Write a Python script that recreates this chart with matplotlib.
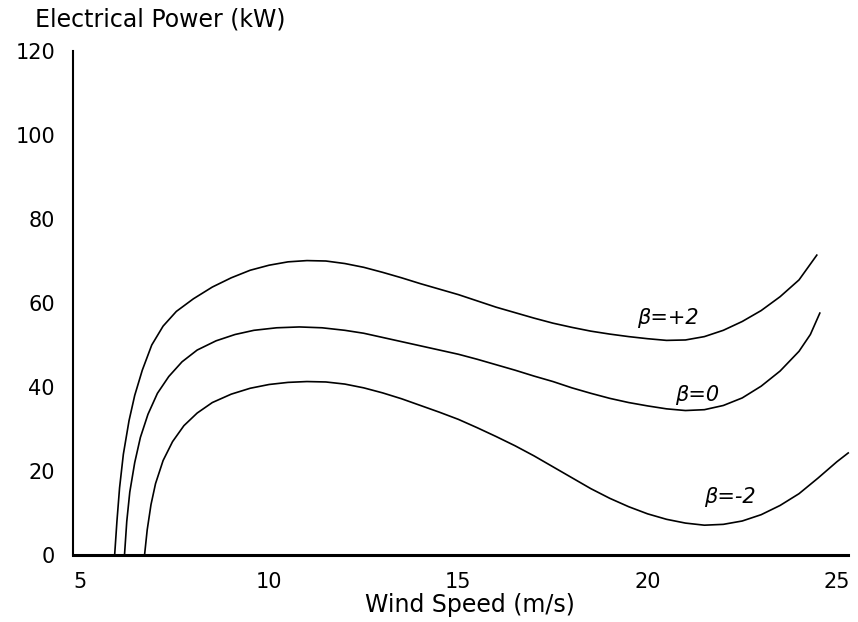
import matplotlib
matplotlib.use('Agg')
import matplotlib.pyplot as plt

# Power curves for three blade pitch settings, wind speed (m/s) vs power (kW)
speed_p2 = [5.92, 5.98, 6.05, 6.15, 6.3, 6.45, 6.65, 6.9, 7.2, 7.55, 8.0, 8.5,
            9.0, 9.5, 10.0, 10.5, 11.0, 11.5, 12.0, 12.5, 13.0, 13.5, 14.0, 14.5,
            15.0, 15.5, 16.0, 16.5, 17.0, 17.5, 18.0, 18.5, 19.0, 19.5, 20.0, 20.5,
            21.0, 21.5, 22.0, 22.5, 23.0, 23.5, 24.0, 24.47]
power_p2 = [0, 8, 16, 24, 32, 38, 44, 50, 54.5, 58, 61, 63.8,
            66, 67.8, 69, 69.8, 70.1, 70, 69.4, 68.5, 67.3, 66, 64.6, 63.3,
            62, 60.5, 59, 57.7, 56.4, 55.2, 54.2, 53.3, 52.6, 52, 51.5, 51.1,
            51.2, 52, 53.5, 55.6, 58.2, 61.5, 65.5, 71.4]

speed_0 = [6.18, 6.24, 6.32, 6.45, 6.6, 6.8, 7.05, 7.35, 7.7, 8.1, 8.6, 9.1,
           9.6, 10.2, 10.8, 11.4, 12.0, 12.5, 13.0, 13.5, 14.0, 14.5, 15.0, 15.5,
           16.0, 16.5, 17.0, 17.5, 18.0, 18.5, 19.0, 19.5, 20.0, 20.5, 21.0, 21.5,
           22.0, 22.5, 23.0, 23.5, 24.0, 24.3, 24.55]
power_0 = [0, 8, 15, 22, 28, 33.5, 38.5, 42.5, 46, 48.8, 51, 52.5,
           53.5, 54.1, 54.3, 54.1, 53.5, 52.8, 51.8, 50.8, 49.8, 48.8, 47.8, 46.6,
           45.3, 44, 42.6, 41.3, 39.8, 38.5, 37.3, 36.3, 35.5, 34.8, 34.4, 34.6,
           35.6, 37.4, 40.2, 43.8, 48.5, 52.5, 57.6]

speed_m2 = [6.71, 6.78, 6.88, 7.0, 7.2, 7.45, 7.75, 8.1, 8.5, 9.0, 9.5, 10.0,
            10.5, 11.0, 11.5, 12.0, 12.5, 13.0, 13.5, 14.0, 14.5, 15.0, 15.5, 16.0,
            16.5, 17.0, 17.5, 18.0, 18.5, 19.0, 19.5, 20.0, 20.5, 21.0, 21.5, 22.0,
            22.5, 23.0, 23.5, 24.0, 24.5, 25.0, 25.3]
power_m2 = [0, 6, 12, 17, 22.5, 27, 30.8, 33.8, 36.3, 38.3, 39.7, 40.6,
            41.1, 41.3, 41.2, 40.7, 39.8, 38.6, 37.2, 35.6, 34, 32.3, 30.3, 28.2,
            26, 23.6, 21, 18.4, 15.8, 13.5, 11.5, 9.8, 8.5, 7.6, 7.1, 7.3,
            8.1, 9.6, 11.8, 14.6, 18.3, 22.2, 24.3]

x_ticks = [5, 10, 15, 20, 25]
y_ticks = [0, 20, 40, 60, 80, 100, 120]

fig = plt.figure(figsize=(8.58, 6.22), dpi=100)
ax = fig.add_axes([0.0851, 0.1077, 0.9035, 0.8103])

for xs, ys in [(speed_p2, power_p2), (speed_0, power_0), (speed_m2, power_m2)]:
    ax.plot(xs, ys, color='black', lw=1.2, clip_on=False,
            solid_joinstyle='round')

# pitch angle labels next to each curve
ax.text(20.53, 56.4, 'β=+2', fontsize=15, style='italic', ha='center', va='center')
ax.text(21.3, 38.1, 'β=0', fontsize=15, style='italic', ha='center', va='center')
ax.text(22.16, 13.8, 'β=-2', fontsize=15, style='italic', ha='center', va='center')

ax.set_xlim(4.82, 25.3)
ax.set_ylim(0, 120)
ax.set_xticks(x_ticks)
ax.set_yticks(y_ticks)
ax.tick_params(length=0, labelsize=15)
ax.tick_params(axis='x', pad=12)
ax.tick_params(axis='y', pad=13)

ax.spines['top'].set_visible(False)
ax.spines['right'].set_visible(False)
ax.spines['left'].set_linewidth(1.5)
ax.spines['bottom'].set_linewidth(2.2)

fig.text(35 / 858, 1 - 20 / 622, 'Electrical Power (kW)', fontsize=17,
         ha='left', va='center')
fig.text(470 / 858, 1 - 605 / 622, 'Wind Speed (m/s)', fontsize=17,
         ha='center', va='center')

fig.savefig('out.png', dpi=100)
